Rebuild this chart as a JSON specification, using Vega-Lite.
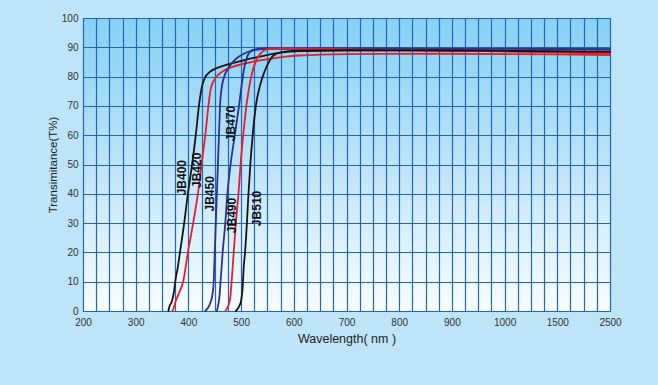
{
  "$schema": "https://vega.github.io/schema/vega-lite/v6.json",
  "width": 527,
  "height": 293,
  "autosize": {"type": "none"},
  "padding": {"left": 83, "top": 18, "right": 48, "bottom": 74},
  "background": "#bde4f7",
  "view": {
    "fill": {"gradient": "linear", "x1": 0, "y1": 0, "x2": 0, "y2": 1,
      "stops": [{"offset": 0, "color": "#86d1f4"}, {"offset": 0.45, "color": "#b8e2f7"}, {"offset": 1, "color": "#f9fdff"}]},
    "stroke": "#2266bb",
    "strokeWidth": 1
  },
  "config": {"font": "Liberation Sans"},
  "datasets": {
    "curves": [
      {"filter": "JB400", "wl": 362, "t": 0}, {"filter": "JB400", "wl": 364, "t": 1.5}, {"filter": "JB400", "wl": 369, "t": 3.5}, {"filter": "JB400", "wl": 373, "t": 7}, {"filter": "JB400", "wl": 375, "t": 10}, {"filter": "JB400", "wl": 380, "t": 15}, {"filter": "JB400", "wl": 384, "t": 20}, {"filter": "JB400", "wl": 392, "t": 30}, {"filter": "JB400", "wl": 399, "t": 40}, {"filter": "JB400", "wl": 407, "t": 50}, {"filter": "JB400", "wl": 414, "t": 60}, {"filter": "JB400", "wl": 420, "t": 70}, {"filter": "JB400", "wl": 425, "t": 76}, {"filter": "JB400", "wl": 431, "t": 79.5}, {"filter": "JB400", "wl": 440, "t": 81.5}, {"filter": "JB400", "wl": 455, "t": 83}, {"filter": "JB400", "wl": 475, "t": 84.2}, {"filter": "JB400", "wl": 510, "t": 85.8}, {"filter": "JB400", "wl": 540, "t": 87}, {"filter": "JB400", "wl": 575, "t": 88.2}, {"filter": "JB400", "wl": 610, "t": 88.7}, {"filter": "JB400", "wl": 700, "t": 89}, {"filter": "JB400", "wl": 900, "t": 88.9}, {"filter": "JB400", "wl": 1500, "t": 88.6}, {"filter": "JB400", "wl": 2500, "t": 88.5},
      {"filter": "JB420", "wl": 370, "t": 0}, {"filter": "JB420", "wl": 372, "t": 1}, {"filter": "JB420", "wl": 376, "t": 3.4}, {"filter": "JB420", "wl": 383, "t": 6.5}, {"filter": "JB420", "wl": 390, "t": 10}, {"filter": "JB420", "wl": 399, "t": 20}, {"filter": "JB420", "wl": 409, "t": 30}, {"filter": "JB420", "wl": 418, "t": 40}, {"filter": "JB420", "wl": 425, "t": 50}, {"filter": "JB420", "wl": 432, "t": 60}, {"filter": "JB420", "wl": 438, "t": 70}, {"filter": "JB420", "wl": 442, "t": 75.5}, {"filter": "JB420", "wl": 448, "t": 78.5}, {"filter": "JB420", "wl": 456, "t": 80.5}, {"filter": "JB420", "wl": 470, "t": 82.3}, {"filter": "JB420", "wl": 485, "t": 83.4}, {"filter": "JB420", "wl": 515, "t": 84.8}, {"filter": "JB420", "wl": 545, "t": 85.8}, {"filter": "JB420", "wl": 580, "t": 86.7}, {"filter": "JB420", "wl": 610, "t": 87.2}, {"filter": "JB420", "wl": 700, "t": 87.7}, {"filter": "JB420", "wl": 900, "t": 87.8}, {"filter": "JB420", "wl": 1500, "t": 87.6}, {"filter": "JB420", "wl": 2500, "t": 87.3},
      {"filter": "JB450", "wl": 432, "t": 0}, {"filter": "JB450", "wl": 437, "t": 1}, {"filter": "JB450", "wl": 442, "t": 3}, {"filter": "JB450", "wl": 446, "t": 6}, {"filter": "JB450", "wl": 448, "t": 10}, {"filter": "JB450", "wl": 450, "t": 20}, {"filter": "JB450", "wl": 452, "t": 30}, {"filter": "JB450", "wl": 454, "t": 40}, {"filter": "JB450", "wl": 456, "t": 50}, {"filter": "JB450", "wl": 458, "t": 60}, {"filter": "JB450", "wl": 460, "t": 70}, {"filter": "JB450", "wl": 463, "t": 76}, {"filter": "JB450", "wl": 468, "t": 80}, {"filter": "JB450", "wl": 476, "t": 83}, {"filter": "JB450", "wl": 490, "t": 86}, {"filter": "JB450", "wl": 505, "t": 87.8}, {"filter": "JB450", "wl": 525, "t": 89}, {"filter": "JB450", "wl": 550, "t": 89.5}, {"filter": "JB450", "wl": 700, "t": 89.5}, {"filter": "JB450", "wl": 1500, "t": 89.4}, {"filter": "JB450", "wl": 2500, "t": 89.3},
      {"filter": "JB470", "wl": 454, "t": 0}, {"filter": "JB470", "wl": 456.5, "t": 2}, {"filter": "JB470", "wl": 459, "t": 5}, {"filter": "JB470", "wl": 461, "t": 10}, {"filter": "JB470", "wl": 465, "t": 20}, {"filter": "JB470", "wl": 470, "t": 30}, {"filter": "JB470", "wl": 474, "t": 40}, {"filter": "JB470", "wl": 480, "t": 50}, {"filter": "JB470", "wl": 488, "t": 60}, {"filter": "JB470", "wl": 496, "t": 70}, {"filter": "JB470", "wl": 501, "t": 77}, {"filter": "JB470", "wl": 505, "t": 82}, {"filter": "JB470", "wl": 510, "t": 86}, {"filter": "JB470", "wl": 516, "t": 88.3}, {"filter": "JB470", "wl": 526, "t": 89.3}, {"filter": "JB470", "wl": 545, "t": 89.6}, {"filter": "JB470", "wl": 700, "t": 89.6}, {"filter": "JB470", "wl": 1500, "t": 89.5}, {"filter": "JB470", "wl": 2500, "t": 89.4},
      {"filter": "JB490", "wl": 470, "t": 0}, {"filter": "JB490", "wl": 475, "t": 1.5}, {"filter": "JB490", "wl": 479, "t": 4}, {"filter": "JB490", "wl": 482, "t": 10}, {"filter": "JB490", "wl": 486, "t": 20}, {"filter": "JB490", "wl": 490, "t": 30}, {"filter": "JB490", "wl": 495, "t": 40}, {"filter": "JB490", "wl": 499, "t": 50}, {"filter": "JB490", "wl": 504, "t": 60}, {"filter": "JB490", "wl": 510, "t": 70}, {"filter": "JB490", "wl": 516, "t": 77}, {"filter": "JB490", "wl": 522, "t": 82}, {"filter": "JB490", "wl": 530, "t": 86}, {"filter": "JB490", "wl": 540, "t": 88.5}, {"filter": "JB490", "wl": 552, "t": 89.4}, {"filter": "JB490", "wl": 580, "t": 89.6}, {"filter": "JB490", "wl": 700, "t": 89.3}, {"filter": "JB490", "wl": 900, "t": 88.8}, {"filter": "JB490", "wl": 1500, "t": 88.3}, {"filter": "JB490", "wl": 2500, "t": 87.8},
      {"filter": "JB510", "wl": 490, "t": 0}, {"filter": "JB510", "wl": 496, "t": 1.5}, {"filter": "JB510", "wl": 500, "t": 3.5}, {"filter": "JB510", "wl": 503, "t": 8}, {"filter": "JB510", "wl": 505, "t": 15}, {"filter": "JB510", "wl": 507.5, "t": 20}, {"filter": "JB510", "wl": 511, "t": 30}, {"filter": "JB510", "wl": 514, "t": 40}, {"filter": "JB510", "wl": 517.5, "t": 50}, {"filter": "JB510", "wl": 522, "t": 60}, {"filter": "JB510", "wl": 528, "t": 70}, {"filter": "JB510", "wl": 536, "t": 77}, {"filter": "JB510", "wl": 543, "t": 81}, {"filter": "JB510", "wl": 550, "t": 84}, {"filter": "JB510", "wl": 560, "t": 87}, {"filter": "JB510", "wl": 575, "t": 88.3}, {"filter": "JB510", "wl": 600, "t": 88.8}, {"filter": "JB510", "wl": 700, "t": 89}, {"filter": "JB510", "wl": 900, "t": 88.9}, {"filter": "JB510", "wl": 1500, "t": 88.6}, {"filter": "JB510", "wl": 2500, "t": 88.5}
    ],
    "labels": [
      {"filter": "JB400", "wl": 387, "t": 45.5},
      {"filter": "JB420", "wl": 416, "t": 48},
      {"filter": "JB450", "wl": 441, "t": 40},
      {"filter": "JB470", "wl": 480.5, "t": 64},
      {"filter": "JB490", "wl": 483, "t": 32.6},
      {"filter": "JB510", "wl": 531, "t": 35}
    ]
  },
  "encoding": {
    "x": {
      "field": "wl", "type": "quantitative",
      "scale": {"domain": [200, 1000, 1500, 2500], "range": [0, 421.6, 474.3, 527], "nice": false, "zero": false},
      "axis": {
        "values": [200, 225, 250, 275, 300, 325, 350, 375, 400, 425, 450, 475, 500, 525, 550, 575, 600, 625, 650, 675, 700, 725, 750, 775, 800, 825, 850, 875, 900, 925, 950, 975, 1000, 1125, 1250, 1375, 1500, 1750, 2000, 2250, 2500],
        "labelExpr": "indexof([200,300,400,500,600,700,800,900,1000,1500,2500], datum.value) >= 0 ? datum.label : ''",
        "format": "d",
        "ticks": false, "domain": false, "grid": true,
        "gridColor": "#2266bb", "gridWidth": 1.2,
        "labelPadding": 6, "labelFontSize": 10, "labelColor": "#333333",
        "labelOverlap": false, "labelFlush": false, "labelBound": false,
        "title": "Wavelength( nm )", "titleFontSize": 12.5, "titleFontWeight": "normal",
        "titleColor": "#222222", "titlePadding": 5
      }
    },
    "y": {
      "field": "t", "type": "quantitative",
      "scale": {"domain": [0, 100], "nice": false},
      "axis": {
        "values": [0, 10, 20, 30, 40, 50, 60, 70, 80, 90, 100],
        "ticks": false, "domain": false, "grid": true,
        "gridColor": "#2266bb", "gridWidth": 1.2,
        "labelPadding": 5, "labelFontSize": 10, "labelColor": "#333333",
        "labelOverlap": false, "labelBound": false,
        "title": "Transimitance(T%)", "titleFontSize": 11.5, "titleFontWeight": "normal",
        "titleColor": "#222222", "titlePadding": 3
      }
    }
  },
  "layer": [
    {
      "data": {"name": "curves"},
      "mark": {"type": "line", "strokeWidth": 1.8, "interpolate": "monotone", "strokeJoin": "round", "strokeCap": "round"},
      "encoding": {
        "color": {
          "field": "filter", "type": "nominal",
          "scale": {"domain": ["JB400", "JB420", "JB450", "JB470", "JB490", "JB510"], "range": ["#151515", "#ee1c24", "#2e3192", "#2e3192", "#ee1c24", "#151515"]},
          "legend": null
        }
      }
    },
    {
      "data": {"name": "labels"},
      "mark": {"type": "text", "angle": 270, "align": "center", "baseline": "middle", "fontSize": 12, "fontWeight": "bold", "color": "#111111"},
      "encoding": {
        "text": {"field": "filter", "type": "nominal"}
      }
    }
  ]
}
